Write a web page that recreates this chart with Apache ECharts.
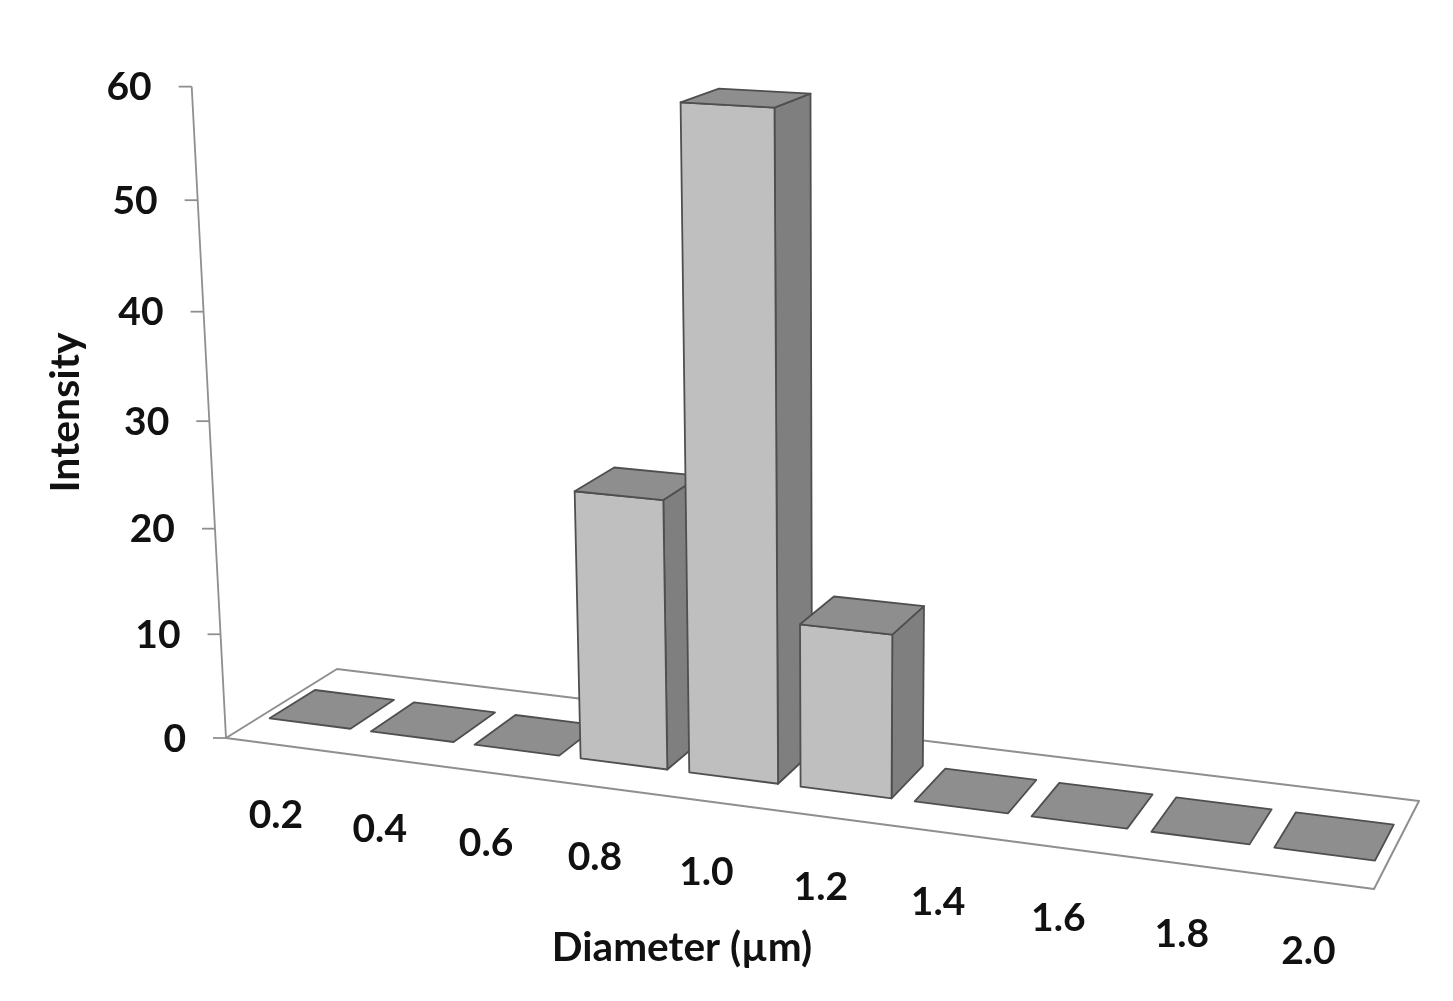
<!DOCTYPE html>
<html><head><meta charset="utf-8">
<style>html,body{margin:0;padding:0;background:#fff}#c{width:1453px;height:1001px}</style>
<script src="https://cdn.jsdelivr.net/npm/echarts@6/dist/echarts.min.js"></script>
</head><body><div id="c"></div>
<script>
var categories = ['0.2','0.4','0.6','0.8','1.0','1.2','1.4','1.6','1.8','2.0'];
var intensity = [0,0,0,25,60,15,0,0,0,0];
var yTicks = [0,10,20,30,40,50,60];

var GRID = {left:225, top:87, width:914, height:651};
var FONT = 'bold 39px Lato, "Open Sans", sans-serif';

// floor corners of the perspective box: front-left, front-right, back-right, back-left
var Q = [[226,738],[1374,889],[1419,801],[337,669]];
var VANISH = [840,12400], LIFT = -0.0529;
var DEPTH_FRONT = 0.29, DEPTH_BACK = 0.70, BAR_FILL = 0.80;

var H = (function(){
  var x0=Q[0][0],y0=Q[0][1],x1=Q[1][0],y1=Q[1][1],x2=Q[2][0],y2=Q[2][1],x3=Q[3][0],y3=Q[3][1];
  var dx1=x1-x2,dx2=x3-x2,dy1=y1-y2,dy2=y3-y2,sx=x0-x1+x2-x3,sy=y0-y1+y2-y3;
  var det=dx1*dy2-dx2*dy1;
  var g=(sx*dy2-dx2*sy)/det,h=(dx1*sy-sx*dy1)/det;
  return {a:x1-x0+g*x1,b:x3-x0+h*x3,c:x0,d:y1-y0+g*y1,e:y3-y0+h*y3,f:y0,g:g,h:h};
})();
// u: 0..1 along the category axis, d: 0..1 into the depth, t: 0..1 of the value axis
function project(u,d,t){
  var w=H.g*u+H.h*d+1, X=H.a*u+H.b*d+H.c, Y=H.d*u+H.e*d+H.f;
  var k=t*LIFT;
  return [(X+k*VANISH[0])/(w+k),(Y+k*VANISH[1])/(w+k)];
}
function U(px){return (px-GRID.left)/GRID.width;}
function T(py){return (GRID.top+GRID.height-py)/GRID.height;}
var LINE='#4f4f4f';
function face(pts,fill,stroke,lw){
  return {type:'polygon',shape:{points:pts},style:{fill:fill,stroke:stroke||LINE,lineWidth:lw||1.8,lineJoin:'round'}};
}
function renderFrame(params,api){
  var g='#8f8f8f', top=T(api.coord([0,60])[1]);
  var kids=[face([project(0,0,0),project(1,0,0),project(1,1,0),project(0,1,0)],'#fff',g,2)];
  kids.push({type:'polyline',shape:{points:[project(0,0,0),project(0,0,top)]},style:{stroke:g,lineWidth:1.8,fill:null}});
  return {type:'group',children:kids};
}
function renderTick(params,api){
  var p=project(0,0,T(api.coord([0,api.value(1)])[1]));
  return {type:'group',children:[
    {type:'line',shape:{x1:p[0]-13,y1:p[1],x2:p[0],y2:p[1]},style:{stroke:'#8f8f8f',lineWidth:1.8}},
    {type:'text',style:{text:String(api.value(1)),x:p[0]-40,y:p[1]+1,align:'right',verticalAlign:'middle',font:FONT,fill:'#111'}}
  ]};
}
function renderBar(params,api){
  var c=api.coord([api.value(0),api.value(1)]), band=api.size([1,0])[0]/GRID.width;
  var u=U(c[0]), t=T(c[1]), hw=band*BAR_FILL/2, l=u-hw, r=u+hw, f=DEPTH_FRONT, b=DEPTH_BACK;
  var kids=[];
  if(t>0){
    kids.push(face([project(r,f,0),project(r,b,0),project(r,b,t),project(r,f,t)],'#7f7f7f'));
    kids.push(face([project(l,f,0),project(r,f,0),project(r,f,t),project(l,f,t)],'#bfbfbf'));
  }
  kids.push(face([project(l,f,t),project(r,f,t),project(r,b,t),project(l,b,t)],'#8e8e8e'));
  return {type:'group',children:kids};
}
function renderCatLabel(params,api){
  var c=api.coord([api.value(0),0]), p=project(U(c[0]),0,0);
  return {type:'text',style:{text:categories[api.value(0)],x:p[0]-1,y:p[1]+71,align:'center',verticalAlign:'middle',font:FONT,fill:'#111'}};
}
var chart=echarts.init(document.getElementById('c'),null,{renderer:'canvas'});
chart.setOption({
  animation:false,
  backgroundColor:'#fff',
  grid:GRID,
  xAxis:{type:'category',data:categories,axisLine:{show:false},axisTick:{show:false},axisLabel:{show:false},splitLine:{show:false},
    name:'Diameter (µm)',nameLocation:'middle',nameGap:189,nameTextStyle:{fontFamily:'Lato',fontWeight:'bold',fontSize:40.5,color:'#111'}},
  yAxis:{type:'value',min:0,max:60,interval:10,axisLine:{show:false},axisTick:{show:false},axisLabel:{show:false},splitLine:{show:false},
    name:'Intensity',nameLocation:'middle',nameGap:139,nameRotate:90,nameTextStyle:{fontFamily:'Lato',fontWeight:'bold',fontSize:41,color:'#111'}},
  series:[
    {type:'custom',coordinateSystem:'cartesian2d',renderItem:renderFrame,data:[[0,0]],silent:true,z:1},
    {type:'custom',coordinateSystem:'cartesian2d',renderItem:renderTick,data:yTicks.map(function(v){return [0,v];}),silent:true,z:2},
    {type:'custom',coordinateSystem:'cartesian2d',renderItem:renderBar,data:intensity.map(function(v,i){return [i,v];}),silent:true,z:3},
    {type:'custom',coordinateSystem:'cartesian2d',renderItem:renderCatLabel,data:categories.map(function(c,i){return [i,0];}),silent:true,z:4}
  ]
});
</script></body></html>
